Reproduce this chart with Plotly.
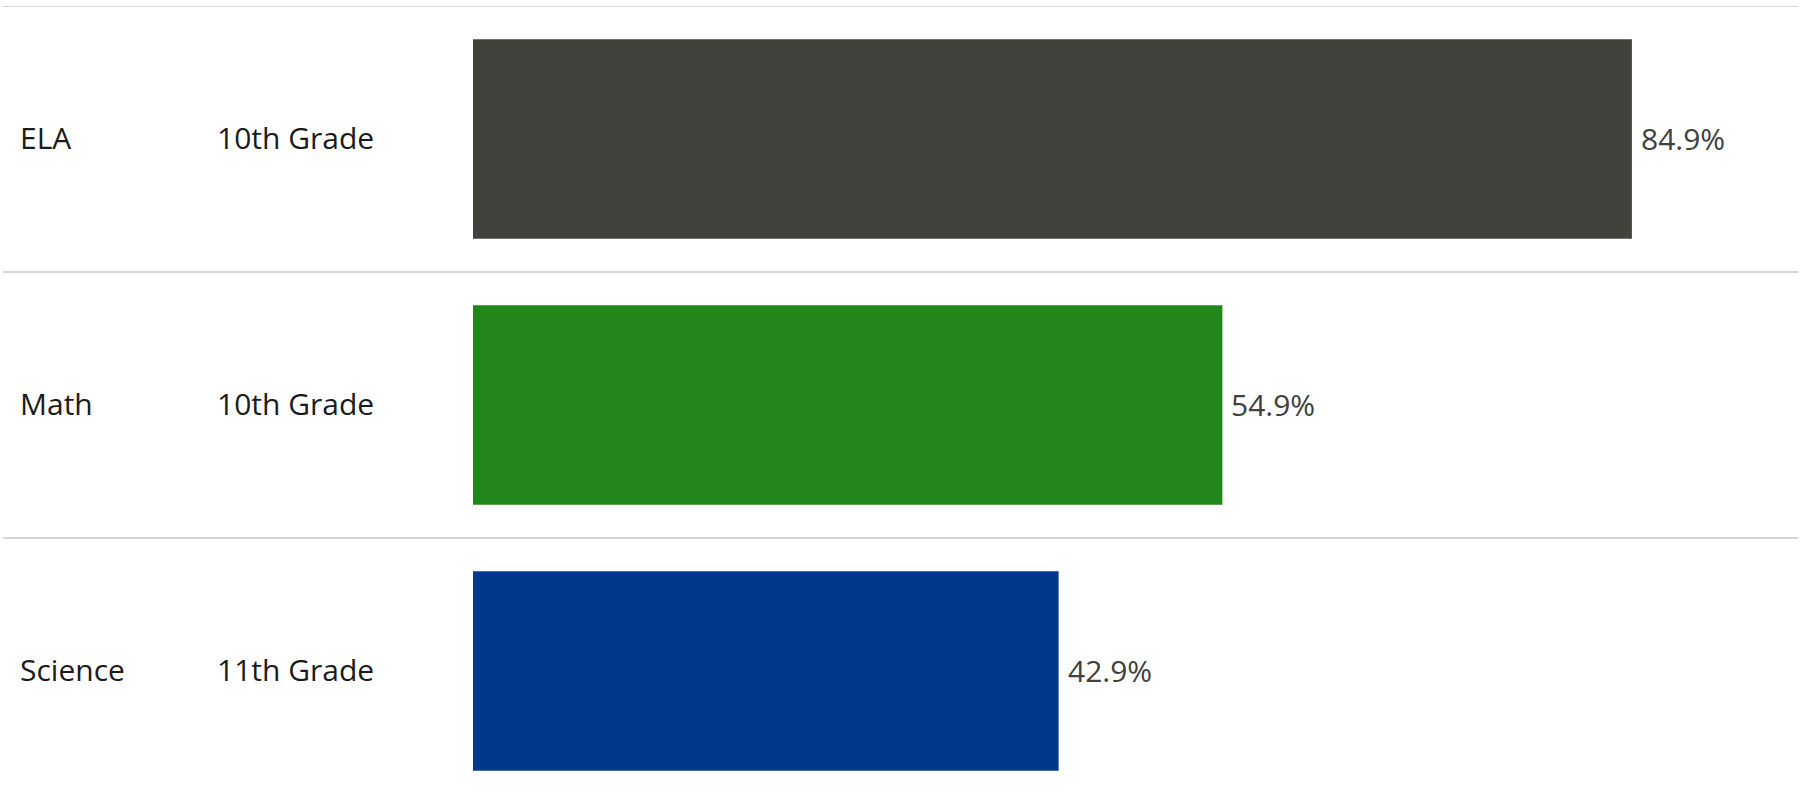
import plotly.graph_objects as go

subjects = ["ELA", "Math", "Science"]
grades = ["10th Grade", "10th Grade", "11th Grade"]
values = [84.9, 54.9, 42.9]
colors = ["#42423D", "#22861A", "#00388A"]
value_labels = [f"{v:.1f}%" for v in values]

W, H = 1805, 804
ML, MR, MT, MB = 473, 7, 6, 0
plot_w = W - ML - MR

fig = go.Figure(go.Bar(
    x=values,
    y=subjects,
    orientation="h",
    marker=dict(color=colors, line=dict(width=0)),
    width=0.75,
    hoverinfo="skip",
))

FONT = "Open Sans, Segoe UI, sans-serif"

annotations = []
for s, g, v, lab in zip(subjects, grades, values, value_labels):
    annotations.append(dict(xref="paper", yref="y", x=0, y=s, text=s,
                            xanchor="left", yanchor="middle", showarrow=False,
                            xshift=-(ML - 18), yshift=2,
                            font=dict(family=FONT, size=30, color="#1b1b1b")))
    annotations.append(dict(xref="paper", yref="y", x=0, y=s, text=g,
                            xanchor="left", yanchor="middle", showarrow=False,
                            xshift=-(ML - 215), yshift=2,
                            font=dict(family=FONT, size=30, color="#1b1b1b")))
    annotations.append(dict(xref="x", yref="y", x=v, y=s, text=lab,
                            xanchor="left", yanchor="middle", showarrow=False,
                            xshift=7, yshift=1,
                            font=dict(family=FONT, size=30, color="#404040")))

shapes = []
x0_paper = (3 - ML) / plot_w
for k in range(len(subjects)):
    shapes.append(dict(type="line", xref="paper", yref="y",
                       x0=x0_paper, x1=1, y0=k - 0.5, y1=k - 0.5,
                       line=dict(color="#d6d6d6", width=2), layer="below"))

fig.update_layout(
    width=W, height=H,
    margin=dict(l=ML, r=MR, t=MT, b=MB, pad=0),
    paper_bgcolor="white", plot_bgcolor="white",
    showlegend=False,
    xaxis=dict(range=[0, plot_w / 13.65], visible=False, fixedrange=True),
    yaxis=dict(range=[len(subjects) - 0.5, -0.5], visible=False, fixedrange=True),
    annotations=annotations,
    shapes=shapes,
)

fig.write_html("out.html", config={"displayModeBar": False},
               post_script="document.body.style.margin='0';document.body.style.overflow='hidden';")
